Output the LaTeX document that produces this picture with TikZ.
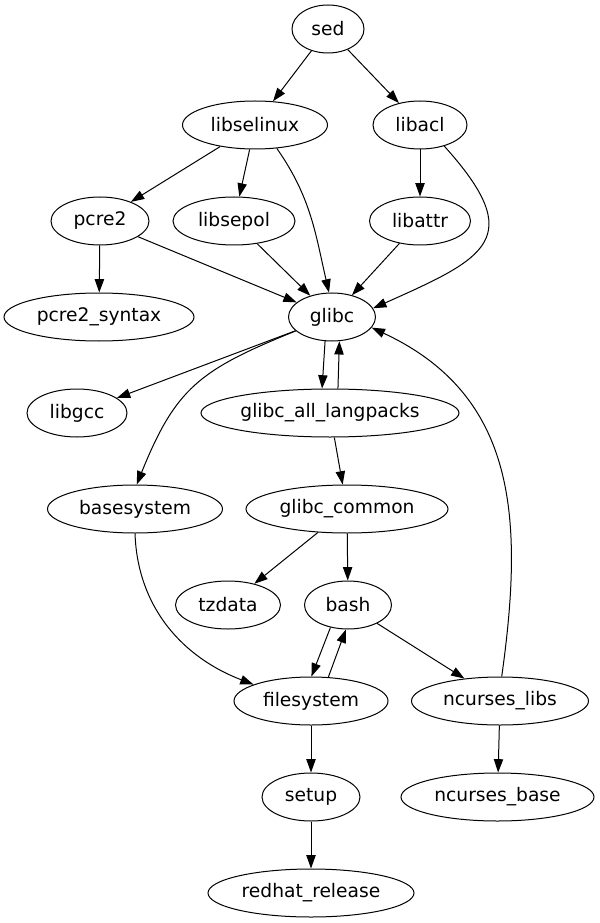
\documentclass[tikz,border=0pt]{standalone}
\usepackage{fontspec}
\setmainfont{DejaVu Sans}
\usetikzlibrary{shapes.geometric,arrows.meta}
\begin{document}
\begin{tikzpicture}[x=0.75pt,y=-0.75pt,
  pkg/.style={ellipse,draw,line width=0.75pt,inner sep=0pt,minimum height=36pt,minimum width=#1*0.75pt,font=\fontsize{14}{16}\selectfont},
  arr/.style={line width=0.75pt,-{Triangle[length=10pt,width=7pt]}}]
\useasboundingbox (0,0) rectangle (599,923);
\node[pkg=72]  (sed)            at (328,29)  {sed};
\node[pkg=145] (libselinux)     at (255,125) {libselinux};
\node[pkg=94]  (libacl)         at (420,125) {libacl};
\node[pkg=98]  (pcre2)          at (100,221) {pcre2};
\node[pkg=122] (libsepol)       at (234,221) {libsepol};
\node[pkg=101] (libattr)        at (420,221) {libattr};
\node[pkg=87]  (glibc)          at (332,317) {glibc};
\node[pkg=190] (pcre2_syntax)   at (99,317)  {pcre2\_syntax};
\node[pkg=100] (libgcc)         at (77,413)  {libgcc};
\node[pkg=258] (gal)            at (330,413) {glibc\_all\_langpacks};
\node[pkg=175] (basesystem)     at (135,509) {basesystem};
\node[pkg=202] (glibc_common)   at (347,509) {glibc\_common};
\node[pkg=105] (tzdata)         at (228,605) {tzdata};
\node[pkg=87]  (bash)           at (348,605) {bash};
\node[pkg=154] (filesystem)     at (311,701) {filesystem};
\node[pkg=177] (ncurses_libs)   at (500,701) {ncurses\_libs};
\node[pkg=98]  (setup)          at (311,797) {setup};
\node[pkg=193] (ncurses_base)   at (497.5,797) {ncurses\_base};
\node[pkg=206] (redhat_release) at (311,893) {redhat\_release};

\draw[arr] (sed) -- (libselinux);
\draw[arr] (sed) -- (libacl);
\draw[arr] (libselinux) -- (pcre2);
\draw[arr] (libselinux) -- (libsepol);
\draw[arr] (libselinux.-47) to[out=-55,in=103] (glibc.97);
\draw[arr] (libacl) -- (libattr);
\draw[arr] (libacl.-41) to[out=-48,in=24,looseness=1.8] (glibc.12);
\draw[arr] (pcre2) -- (pcre2_syntax);
\draw[arr] (pcre2) -- (glibc);
\draw[arr] (libsepol) -- (glibc);
\draw[arr] (libattr) -- (glibc);
\draw[arr] (glibc) -- (libgcc);
\draw[arr] (glibc.-159) to[out=202,in=68,looseness=1.2] (basesystem.86);
\draw[arr] (glibc.-106) -- (gal.108);
\draw[arr] (gal.72) -- (glibc.-73);
\draw[arr] (gal) -- (glibc_common);
\draw[arr] (glibc_common) -- (tzdata);
\draw[arr] (glibc_common) -- (bash);
\draw[arr] (bash.-128) -- (filesystem.89);
\draw[arr] (filesystem.54) -- (bash.-95);
\draw[arr] (bash) -- (ncurses_libs);
\draw[arr] (ncurses_libs.86) to[out=82,in=-25,looseness=1.1] (glibc.-15);
\draw[arr] (basesystem.-90) to[out=-88,in=159] (filesystem.164);
\draw[arr] (filesystem) -- (setup);
\draw[arr] (setup) -- (redhat_release);
\draw[arr] (ncurses_libs) -- (ncurses_base);
\end{tikzpicture}
\end{document}
